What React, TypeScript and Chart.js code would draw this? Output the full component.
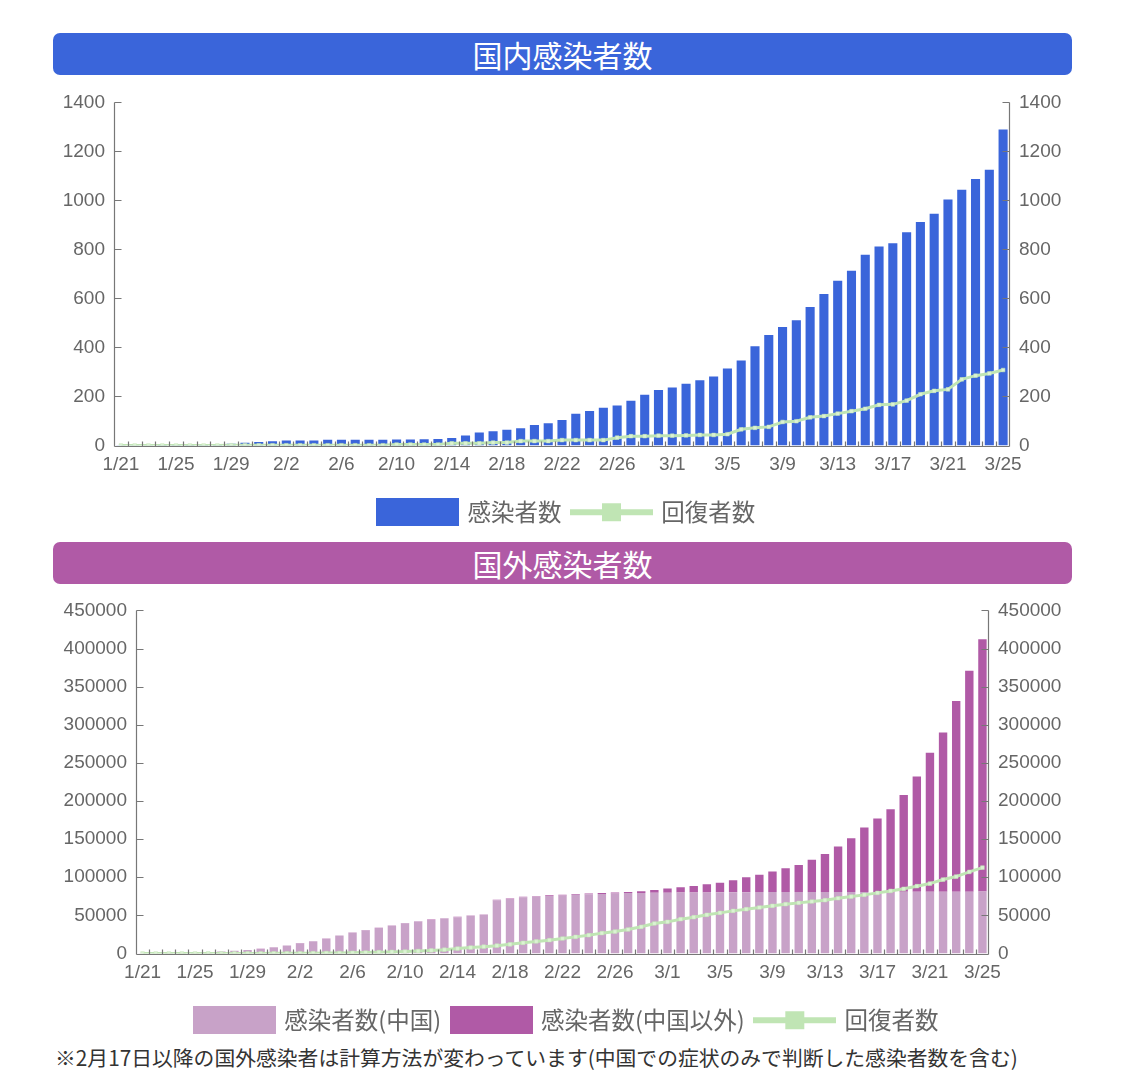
import React, { useEffect, useRef } from 'react';
import { Chart, registerables } from 'chart.js';

Chart.register(...registerables);

// ---------- categories ----------
const dates = [
  '1/21', '1/22', '1/23', '1/24', '1/25', '1/26', '1/27', '1/28', '1/29', '1/30', '1/31',
  '2/1', '2/2', '2/3', '2/4', '2/5', '2/6', '2/7', '2/8', '2/9', '2/10',
  '2/11', '2/12', '2/13', '2/14', '2/15', '2/16', '2/17', '2/18', '2/19', '2/20',
  '2/21', '2/22', '2/23', '2/24', '2/25', '2/26', '2/27', '2/28', '2/29',
  '3/1', '3/2', '3/3', '3/4', '3/5', '3/6', '3/7', '3/8', '3/9', '3/10',
  '3/11', '3/12', '3/13', '3/14', '3/15', '3/16', '3/17', '3/18', '3/19', '3/20',
  '3/21', '3/22', '3/23', '3/24', '3/25',
];
const tickEvery = 4;

// ---------- domestic (国内) ----------
const domesticCases = [
  1, 1, 1, 2, 3, 4, 4, 6, 7, 11, 14,
  17, 20, 20, 20, 23, 23, 23, 23, 23, 24, 24, 26, 27, 31, 41, 53, 58, 64, 70, 84,
  91, 104, 130, 141, 154, 163, 183, 207, 226,
  237, 252, 266, 282, 314, 347, 405, 451, 484, 511, 565, 618, 672, 713, 778,
  812, 825, 870, 912, 946, 1004, 1044, 1087, 1125, 1289,
];
const domesticRecovered = [
  0, 0, 0, 0, 0, 0, 0, 0, 1, 1, 1,
  1, 1, 1, 1, 1, 1, 1, 1, 1, 4, 4, 4, 4, 9, 9, 9, 12, 12, 18, 18,
  18, 22, 22, 22, 22, 32, 38, 38, 40,
  40, 41, 43, 43, 46, 66, 72, 76, 96, 99, 115, 120, 130, 140, 150,
  166, 168, 183, 209, 223, 229, 270, 285, 294, 308,
];
const domesticMax = 1400;
const domesticStep = 200;

// ---------- overseas (国外) ----------
const overseasChina = [
  300, 440, 570, 830, 1300, 2000, 2700, 3500, 4600, 6000, 8000,
  10400, 13500, 16000, 19500, 23500, 27300, 30500, 33600, 36300, 39800,
  41900, 44100, 45900, 47600, 49400, 50700, 69900, 71600, 73800, 74300,
  75500, 76200, 77000, 77600, 78200, 78700, 79200, 79500, 79700,
  79800, 79900, 80000, 80100, 80200, 80300, 80400, 80500, 80600, 80600,
  80700, 80700, 80700, 80800, 80800, 80800, 80800, 80900, 80900, 80900,
  81000, 81000, 81100, 81100, 81200,
];
const overseasOther = [
  5, 8, 10, 15, 20, 30, 40, 55, 70, 90, 110,
  130, 150, 160, 180, 200, 220, 250, 280, 300, 320,
  340, 380, 420, 460, 500, 540, 600, 650, 700, 760,
  820, 900, 1000, 1100, 1200, 1300, 1400, 2200, 3700,
  5300, 6900, 8600, 10700, 12700, 15700, 19500, 22900, 26800, 31100,
  35400, 42400, 49800, 59400, 70400, 84300, 96100, 108300, 127100, 151400,
  182400, 209000, 250100, 289700, 330800,
];
const overseasRecovered = [
  0, 0, 30, 35, 40, 50, 60, 100, 120, 140, 220,
  250, 300, 400, 550, 700, 950, 1300, 1700, 2100, 2500,
  3200, 4000, 5000, 6500, 7800, 9000, 10300, 12000, 14000, 15800,
  17500, 19700, 21800, 24000, 26700, 28800, 31500, 35000, 39300,
  41500, 45000, 47600, 50700, 53300, 55900, 58100, 60300, 62500, 64700,
  66400, 68200, 69900, 72500, 74700, 76900, 79500, 82100, 84800, 88300,
  91700, 97000, 100900, 107000, 112700,
];
const overseasMax = 450000;
const overseasStep = 50000;

// ---------- styles ----------
const BLUE = '#3a65da';
const PURPLE = '#b05aa6';
const LIGHT_PURPLE = '#c8a2c8';
const GREEN = '#c0e5b4';
const GREEN_POINT = '#dcf2d4';
const AXIS_COLOR = '#777777';
const TEXT_COLOR = '#666666';
const TICK_FONT = { family: '"Liberation Sans", Arial, sans-serif', size: 19 };
const LEGEND_FONT = { family: '"Noto Sans CJK JP", "Noto Sans", sans-serif', size: 23.5 };
const CJK = '"Noto Sans CJK JP", "Noto Sans", sans-serif';
const LEGEND_SHIFT = 10;

function makeBoxIcon(color: string) {
  const c = document.createElement('canvas');
  c.width = 83;
  c.height = 28;
  const g = c.getContext('2d')!;
  g.fillStyle = color;
  g.fillRect(0, 0, 83, 28);
  return c;
}

function makeLineIcon(color: string) {
  const c = document.createElement('canvas');
  c.width = 83;
  c.height = 28;
  const g = c.getContext('2d')!;
  g.fillStyle = color;
  g.fillRect(0, 11, 83, 6);
  g.fillRect(32, 5, 19, 18);
  return c;
}

const axesPlugin = {
  id: 'inwardAxes',
  afterDatasetsDraw(chart: any) {
    const { ctx, chartArea, scales } = chart;
    const xs = scales.x;
    const ys = scales.y;
    const yr = scales.y1;
    const left = Math.round(chartArea.left) + 0.5;
    const right = Math.round(chartArea.right) - 0.5;
    const base = Math.round(ys.getPixelForValue(0)) + 0.5;
    ctx.save();
    ctx.strokeStyle = AXIS_COLOR;
    ctx.lineWidth = 1.2;
    ctx.beginPath();
    ctx.moveTo(left, Math.round(ys.getPixelForValue(ys.max)) + 0.5);
    ctx.lineTo(left, base);
    ctx.moveTo(right, Math.round(yr.getPixelForValue(yr.max)) + 0.5);
    ctx.lineTo(right, base);
    ctx.moveTo(left, base);
    ctx.lineTo(right, base);
    ys.ticks.forEach((t: any) => {
      const p = Math.round(ys.getPixelForValue(t.value)) + 0.5;
      ctx.moveTo(left, p);
      ctx.lineTo(left + 7, p);
    });
    yr.ticks.forEach((t: any) => {
      const p = Math.round(yr.getPixelForValue(t.value)) + 0.5;
      ctx.moveTo(right, p);
      ctx.lineTo(right - 7, p);
    });
    const n = chart.data.labels.length;
    for (let i = 1; i < n; i++) {
      const p = Math.round((xs.getPixelForValue(i - 1) + xs.getPixelForValue(i)) / 2) + 0.5;
      ctx.moveTo(p, base);
      ctx.lineTo(p, base - 5);
    }
    ctx.stroke();
    ctx.restore();
  },
};

function yAxis(position: 'left' | 'right', max: number, step: number, width: number, stacked: boolean) {
  return {
    type: 'linear',
    position,
    min: 0,
    max,
    stacked,
    grid: { display: false, drawTicks: false },
    border: { display: false },
    ticks: {
      stepSize: step,
      padding: 9,
      color: TEXT_COLOR,
      font: TICK_FONT,
      callback: (v: any) => String(v),
    },
    afterFit: (s: any) => {
      s.width = width;
    },
  };
}

function buildOptions(max: number, step: number, leftW: number, rightW: number, stacked: boolean, legendItems: any[]) {
  return {
    responsive: false,
    animation: false,
    devicePixelRatio: 1,
    layout: { padding: { top: 17, bottom: 0, left: LEGEND_SHIFT, right: 0 } },
    plugins: {
      tooltip: { enabled: false },
      legend: {
        position: 'bottom',
        labels: {
          usePointStyle: true,
          pointStyleWidth: 76,
          padding: 12,
          color: TEXT_COLOR,
          font: LEGEND_FONT,
          generateLabels: () => legendItems,
        },
      },
    },
    scales: {
      x: {
        type: 'category',
        offset: true,
        stacked,
        grid: { display: false, drawTicks: false },
        border: { display: false },
        ticks: {
          autoSkip: false,
          maxRotation: 0,
          minRotation: 0,
          padding: 8,
          color: TEXT_COLOR,
          font: TICK_FONT,
          callback: function (this: any, val: any, idx: number) {
            return idx % tickEvery === 0 ? this.getLabelForValue(val) : '';
          },
        },
        afterFit: (s: any) => {
          s.height = 43;
        },
      },
      y: yAxis('left', max, step, leftW - LEGEND_SHIFT, stacked),
      y1: yAxis('right', max, step, rightW, false),
    },
  };
}

function lineDataset(label: string, data: number[]) {
  return {
    type: 'line',
    label,
    data,
    yAxisID: 'y',
    stack: 'recovered',
    order: 0,
    borderColor: GREEN,
    borderWidth: 3,
    tension: 0,
    pointStyle: 'rect',
    pointRadius: 2.6,
    pointBackgroundColor: GREEN_POINT,
    pointBorderColor: GREEN,
    pointBorderWidth: 0.5,
  };
}

function DomesticChart() {
  const ref = useRef<HTMLCanvasElement>(null);
  useEffect(() => {
    const legendItems = [
      { text: '感染者数', pointStyle: makeBoxIcon(BLUE), fillStyle: BLUE, strokeStyle: BLUE, lineWidth: 0, hidden: false, datasetIndex: 0, fontColor: TEXT_COLOR },
      { text: '回復者数', pointStyle: makeLineIcon(GREEN), fillStyle: GREEN, strokeStyle: GREEN, lineWidth: 0, hidden: false, datasetIndex: 1, fontColor: TEXT_COLOR },
    ];
    const chart = new Chart(ref.current!, {
      type: 'bar',
      data: {
        labels: dates,
        datasets: [
          {
            type: 'bar',
            label: '感染者数',
            data: domesticCases,
            backgroundColor: BLUE,
            barPercentage: 0.66,
            categoryPercentage: 1,
            order: 1,
          },
          lineDataset('回復者数', domesticRecovered),
        ],
      } as any,
      options: buildOptions(domesticMax, domesticStep, 61, 62, false, legendItems) as any,
      plugins: [axesPlugin],
    });
    return () => chart.destroy();
  }, []);
  return (
    <canvas
      ref={ref}
      width={1019}
      height={452}
      style={{ position: 'absolute', left: 53, top: 82, width: 1019, height: 452 }}
    />
  );
}

function OverseasChart() {
  const ref = useRef<HTMLCanvasElement>(null);
  useEffect(() => {
    const legendItems = [
      { text: '感染者数(中国)', pointStyle: makeBoxIcon(LIGHT_PURPLE), fillStyle: LIGHT_PURPLE, strokeStyle: LIGHT_PURPLE, lineWidth: 0, hidden: false, datasetIndex: 0, fontColor: TEXT_COLOR },
      { text: '感染者数(中国以外)', pointStyle: makeBoxIcon(PURPLE), fillStyle: PURPLE, strokeStyle: PURPLE, lineWidth: 0, hidden: false, datasetIndex: 1, fontColor: TEXT_COLOR },
      { text: '回復者数', pointStyle: makeLineIcon(GREEN), fillStyle: GREEN, strokeStyle: GREEN, lineWidth: 0, hidden: false, datasetIndex: 2, fontColor: TEXT_COLOR },
    ];
    const chart = new Chart(ref.current!, {
      type: 'bar',
      data: {
        labels: dates,
        datasets: [
          {
            type: 'bar',
            label: '感染者数(中国)',
            data: overseasChina,
            backgroundColor: LIGHT_PURPLE,
            barPercentage: 0.64,
            categoryPercentage: 1,
            stack: 'cases',
            order: 1,
          },
          {
            type: 'bar',
            label: '感染者数(中国以外)',
            data: overseasOther,
            backgroundColor: PURPLE,
            barPercentage: 0.64,
            categoryPercentage: 1,
            stack: 'cases',
            order: 1,
          },
          lineDataset('回復者数', overseasRecovered),
        ],
      } as any,
      options: buildOptions(overseasMax, overseasStep, 83, 83, true, legendItems) as any,
      plugins: [axesPlugin],
    });
    return () => chart.destroy();
  }, []);
  return (
    <canvas
      ref={ref}
      width={1019}
      height={452}
      style={{ position: 'absolute', left: 53, top: 590, width: 1019, height: 452 }}
    />
  );
}

function TitleBar({ text, color, top }: { text: string; color: string; top: number }) {
  return (
    <div
      style={{
        position: 'absolute',
        left: 53,
        top,
        width: 1019,
        height: 42,
        background: color,
        borderRadius: 7,
        color: '#ffffff',
        fontFamily: CJK,
        fontSize: 30,
        lineHeight: '42px',
        textAlign: 'center',
      }}
    >
      {text}
    </div>
  );
}

export default function App() {
  return (
    <div style={{ position: 'absolute', left: 0, top: 0, width: 1125, height: 1090, background: '#ffffff' }}>
      <TitleBar text="国内感染者数" color={BLUE} top={33} />
      <DomesticChart />
      <TitleBar text="国外感染者数" color={PURPLE} top={542} />
      <OverseasChart />
      <div
        style={{
          position: 'absolute',
          left: 55,
          top: 1045,
          fontFamily: CJK,
          fontSize: 20.8,
          lineHeight: '24px',
          color: '#333333',
          whiteSpace: 'nowrap',
        }}
      >
        ※2月17日以降の国外感染者は計算方法が変わっています(中国での症状のみで判断した感染者数を含む)
      </div>
    </div>
  );
}
